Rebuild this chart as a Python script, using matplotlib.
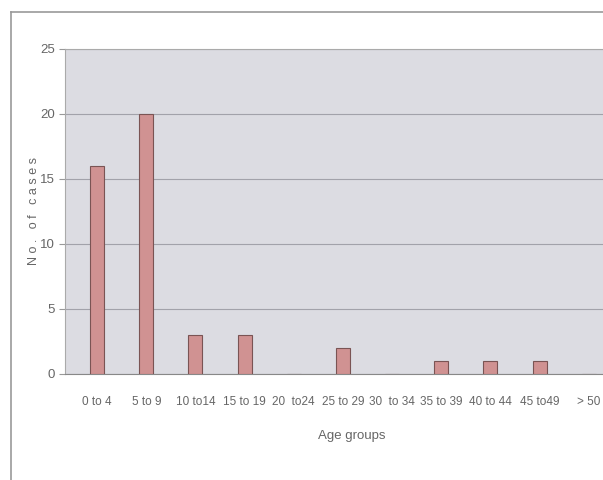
import numpy as np
import matplotlib.pyplot as plt
from matplotlib.lines import Line2D

# Datos
grupos = ['0 to 4', '5 to 9', '10 to14', '15 to 19', '20  to24', '25 to 29',
          '30  to 34', '35 to 39', '40 to 44', '45 to49', '> 50']
casos = [16, 20, 3, 3, 0, 2, 0, 1, 1, 1, 0]
ticks_y = [0, 5, 10, 15, 20, 25]

plt.rcParams['font.family'] = ['Liberation Sans', 'DejaVu Sans']

fig = plt.figure(figsize=(6.03, 4.8), dpi=100)
ax = fig.add_axes([0.108, 0.221, 0.95, 0.677])

x = np.arange(len(grupos))
ax.set_facecolor('#dcdce2')
ax.bar(x, casos, width=0.285, color='#d09292', edgecolor='#7a5454', linewidth=0.8, zorder=3)

ax.set_ylim(0, 25)
ax.set_xlim(-0.65, 11.0)
ax.set_yticks(ticks_y)
ax.yaxis.grid(True, color='#a2a2aa', linewidth=0.8, zorder=0)
ax.set_xticks(x)
ax.set_xticklabels(grupos, fontsize=8.5, color='#666666')
ax.tick_params(axis='y', labelsize=9.5, labelcolor='#666666', length=4, color='#999999')
ax.tick_params(axis='x', length=0, pad=16)

ax.spines['right'].set_visible(False)
ax.spines['left'].set_color('#aaaaaa')
ax.spines['bottom'].set_color('#888888')
ax.spines['top'].set_color('#aaaaaa')

ax.set_xlabel('Age groups', fontsize=9.5, color='#666666', labelpad=16)
ax.set_ylabel('N o .   o f   c a s e s', fontsize=9, color='#666666', labelpad=0)

# Marco exterior del escaneo
fig.add_artist(Line2D([11 / 603, 11 / 603], [0, 1 - 12 / 480], color='#999999', linewidth=1.2))
fig.add_artist(Line2D([11 / 603, 1], [1 - 12 / 480, 1 - 12 / 480], color='#999999', linewidth=1.2))

plt.savefig('out.png', dpi=100)
